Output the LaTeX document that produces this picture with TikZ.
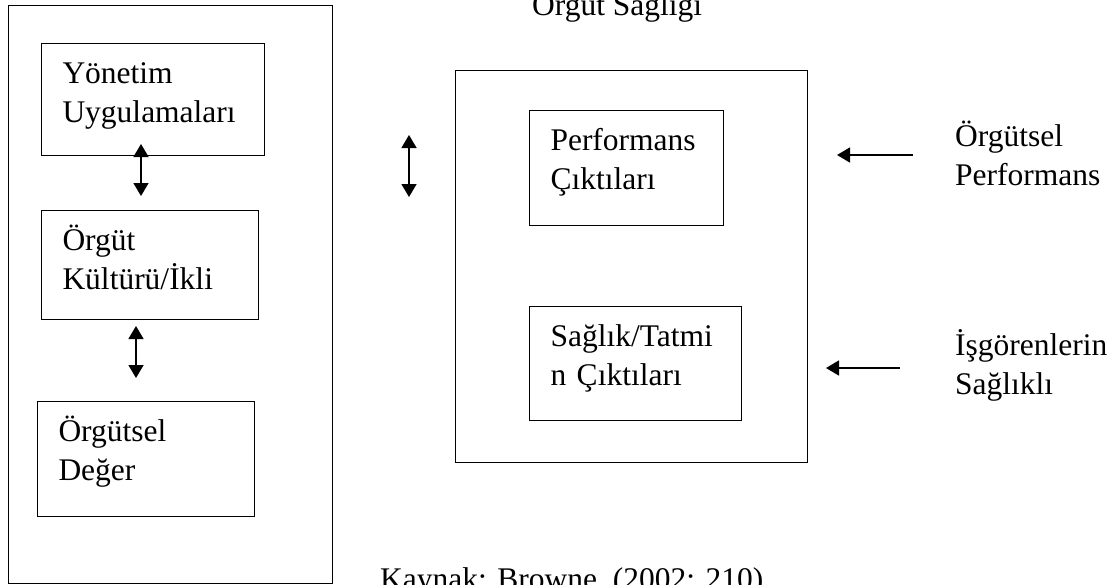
\documentclass[tikz,border=0pt]{standalone}
\usepackage{fontspec}
\setmainfont{Liberation Serif}
\usetikzlibrary{arrows.meta}
\tikzset{
  kutu/.style={draw, line width=1pt, anchor=north west, align=left, inner xsep=21pt, inner ysep=0pt, text height=40pt},
  ciftok/.style={<->, line width=1.5pt},
  tekok/.style={->, line width=1.5pt},
  yazi/.style={inner sep=0pt, align=left, anchor=base west}
}
\begin{document}
\begin{tikzpicture}[>={Triangle[length=13pt,width=15pt]}, x=1pt, y=-1pt, font=\fontsize{31.5}{38.5}\selectfont]
\useasboundingbox (0,0) rectangle (1116,584);
\draw[line width=1pt] (8,5) rectangle (332,583);
\draw[line width=1pt] (455,70) rectangle (807,462);

\node[kutu, text width=181pt, text depth=72pt] (yon) at (41,43) {Yönetim\\Uygulamaları};
\node[kutu, text width=175pt, text depth=69pt] (kultur) at (41,210) {Örgüt\\Kültürü/İkli};
\node[kutu, text width=175pt, text depth=75pt] (deger) at (37,401) {Örgütsel\\Değer};
\node[kutu, text width=152pt, text depth=75pt] (perf) at (529,110) {Performans\\Çıktıları};
\node[kutu, text width=170pt, text depth=74pt] (saglik) at (529,306) {Sağlık/Tatmi\\n Çıktıları};

\node[yazi] (baslik) at (532,15) {Örgüt Sağlığı};
\node[yazi] (orgper) at (955,185) {Örgütsel\\Performans};
\node[yazi] (isgoren) at (955,394) {İşgörenlerin\\Sağlıklı};
\node[yazi] (kaynak) at (380,589) {Kaynak: Browne, (2002: 210)};

\coordinate (a1) at (141,144);
\coordinate (a2) at (141,196);
\coordinate (b1) at (136,326);
\coordinate (b2) at (136,378);
\coordinate (c1) at (409,135);
\coordinate (c2) at (409,197);
\coordinate (d1) at (913,155);
\coordinate (d2) at (837,155);
\coordinate (e1) at (900,368);
\coordinate (e2) at (826,368);
\draw[ciftok] (a1) -- (a2);
\draw[ciftok] (b1) -- (b2);
\draw[ciftok] (c1) -- (c2);
\draw[tekok] (d1) -- (d2);
\draw[tekok] (e1) -- (e2);
\end{tikzpicture}
\end{document}
